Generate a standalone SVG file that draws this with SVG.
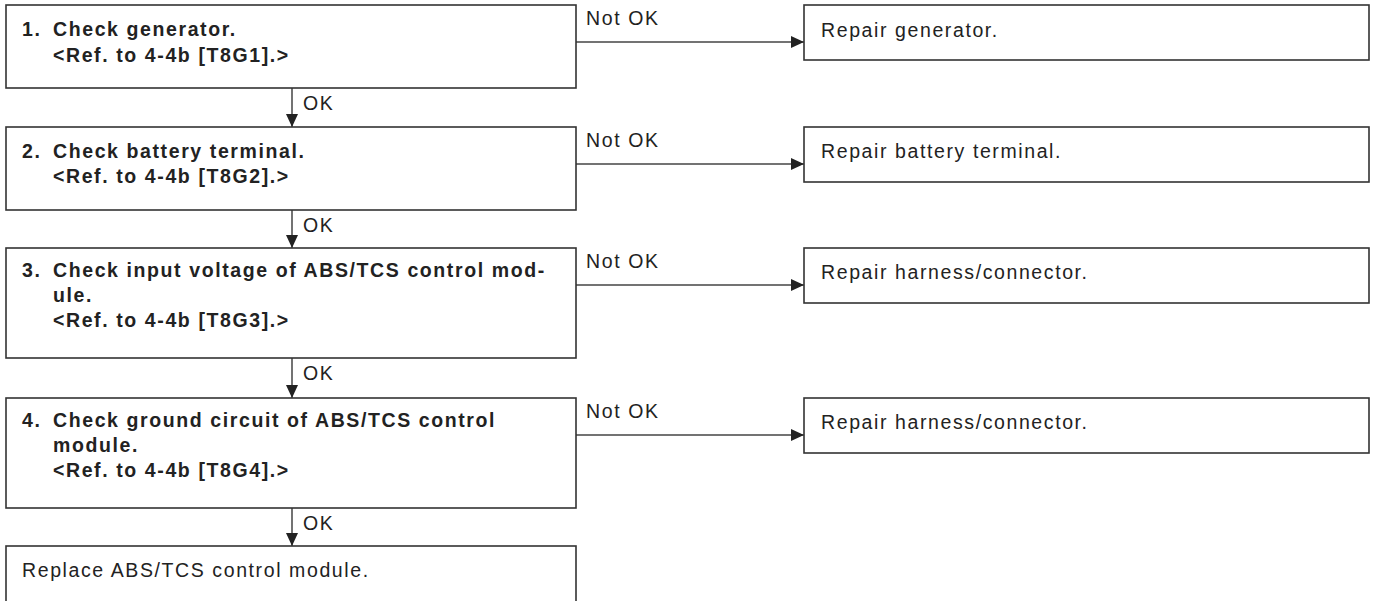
<svg xmlns="http://www.w3.org/2000/svg" width="1373" height="601" viewBox="0 0 1373 601">
<defs>
<marker id="ah" markerWidth="13" markerHeight="12" refX="13" refY="6" orient="auto" markerUnits="userSpaceOnUse">
<path d="M0,0 L13,6 L0,12 Z" fill="#222"/>
</marker>
<style>
.box{fill:#fff;stroke:#333;stroke-width:1.6}
.b{font-family:"Liberation Sans",Arial,sans-serif;font-size:19.5px;font-weight:bold;fill:#222;letter-spacing:1.6px}
.t{font-family:"Liberation Sans",Arial,sans-serif;font-size:19.5px;fill:#222;letter-spacing:1.6px}
.ln{fill:none;stroke:#444;stroke-width:1.5;marker-end:url(#ah)}
</style>
</defs>
<rect width="1373" height="601" fill="#fff"/>
<g id="connectors">
<line class="ln" x1="292" y1="88" x2="292" y2="127"/>
<line class="ln" x1="292" y1="210" x2="292" y2="248"/>
<line class="ln" x1="292" y1="358" x2="292" y2="398"/>
<line class="ln" x1="292" y1="508" x2="292" y2="546"/>
<text class="t" x="303" y="110">OK</text>
<text class="t" x="303" y="232">OK</text>
<text class="t" x="303" y="380">OK</text>
<text class="t" x="303" y="530">OK</text>
<line class="ln" x1="576" y1="42" x2="804" y2="42"/>
<line class="ln" x1="576" y1="164" x2="804" y2="164"/>
<line class="ln" x1="576" y1="285" x2="804" y2="285"/>
<line class="ln" x1="576" y1="435" x2="804" y2="435"/>
<text class="t" x="586" y="25">Not OK</text>
<text class="t" x="586" y="147">Not OK</text>
<text class="t" x="586" y="268">Not OK</text>
<text class="t" x="586" y="418">Not OK</text>
</g>
<g id="step1">
<rect class="box" x="6" y="5" width="570" height="83"/>
<text class="b" x="22" y="36">1.</text>
<text class="b" x="53" y="36">Check generator.</text>
<text class="b" x="53" y="62">&lt;Ref. to 4-4b [T8G1].&gt;</text>
</g>
<g id="step2">
<rect class="box" x="6" y="127" width="570" height="83"/>
<text class="b" x="22" y="158">2.</text>
<text class="b" x="53" y="158">Check battery terminal.</text>
<text class="b" x="53" y="183">&lt;Ref. to 4-4b [T8G2].&gt;</text>
</g>
<g id="step3">
<rect class="box" x="6" y="248" width="570" height="110"/>
<text class="b" x="22" y="277">3.</text>
<text class="b" x="53" y="277">Check input voltage of ABS/TCS control mod-</text>
<text class="b" x="53" y="302">ule.</text>
<text class="b" x="53" y="327">&lt;Ref. to 4-4b [T8G3].&gt;</text>
</g>
<g id="step4">
<rect class="box" x="6" y="398" width="570" height="110"/>
<text class="b" x="22" y="427">4.</text>
<text class="b" x="53" y="427">Check ground circuit of ABS/TCS control</text>
<text class="b" x="53" y="452">module.</text>
<text class="b" x="53" y="477">&lt;Ref. to 4-4b [T8G4].&gt;</text>
</g>
<g id="step5">
<rect class="box" x="6" y="546" width="570" height="80"/>
<text class="t" x="22" y="577">Replace ABS/TCS control module.</text>
</g>
<g id="repair1">
<rect class="box" x="804" y="5" width="565" height="55"/>
<text class="t" x="821" y="37">Repair generator.</text>
</g>
<g id="repair2">
<rect class="box" x="804" y="127" width="565" height="55"/>
<text class="t" x="821" y="158">Repair battery terminal.</text>
</g>
<g id="repair3">
<rect class="box" x="804" y="248" width="565" height="55"/>
<text class="t" x="821" y="279">Repair harness/connector.</text>
</g>
<g id="repair4">
<rect class="box" x="804" y="398" width="565" height="55"/>
<text class="t" x="821" y="429">Repair harness/connector.</text>
</g>
</svg>
